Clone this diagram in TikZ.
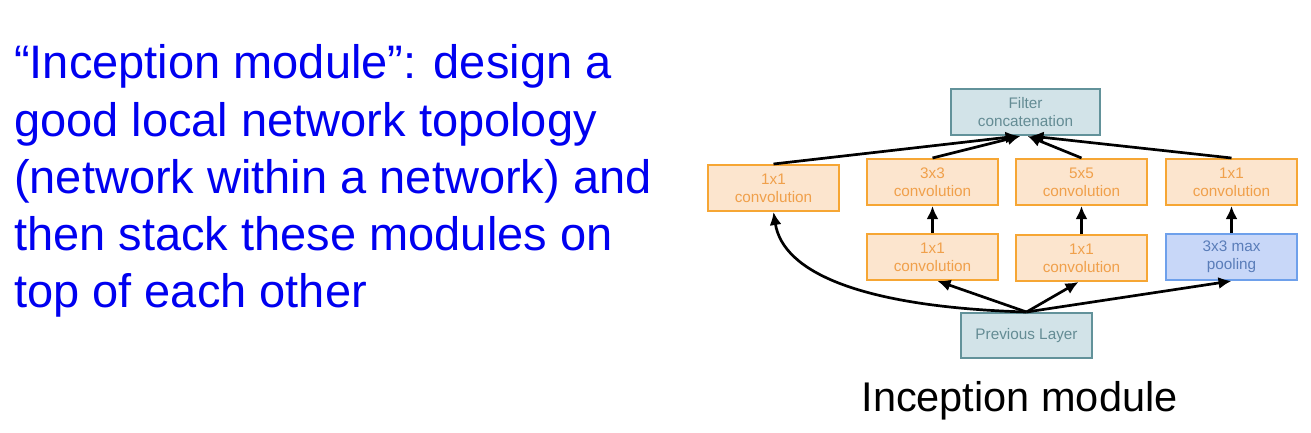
\documentclass[tikz,border=0pt]{standalone}
\usepackage{fontspec}
\setmainfont{Liberation Sans}
\usetikzlibrary{arrows.meta,calc}
\definecolor{txtblue}{RGB}{0,0,240}
\definecolor{orbd}{RGB}{246,166,52}
\definecolor{orfill}{RGB}{252,229,206}
\definecolor{ortxt}{RGB}{240,160,75}
\definecolor{tlbd}{RGB}{98,146,154}
\definecolor{tlfill}{RGB}{210,227,232}
\definecolor{tltxt}{RGB}{100,140,148}
\definecolor{blbd}{RGB}{110,160,235}
\definecolor{blfill}{RGB}{200,215,248}
\definecolor{bltxt}{RGB}{90,125,185}
\tikzset{
  boxbase/.style={draw, line width=2pt, align=center, inner sep=0pt,
    minimum width=131pt, minimum height=46pt,
    font=\fontsize{15.3}{18}\selectfont},
  convbox/.style={boxbase, draw=orbd, fill=orfill, text=ortxt},
  tealbox/.style={boxbase, draw=tlbd, fill=tlfill, text=tltxt},
  poolbox/.style={boxbase, draw=blbd, fill=blfill, text=bltxt},
  bigline/.style={anchor=base west, inner sep=0pt, text=txtblue,
    font=\fontsize{47}{57}\selectfont},
  conn/.style={line width=2.7pt, -{Latex[length=13pt,width=12pt]}}
}
\begin{document}
\begin{tikzpicture}[x=1pt,y=-1pt]
\useasboundingbox (0,0) rectangle (1311,433);
\fill[white] (0,0) rectangle (1311,433);

% left text
\node[bigline] (l1) at (14,79)  {“Inception module”: design a};
\node[bigline] (l2) at (14,136) {good local network topology};
\node[bigline] (l3) at (14,193) {(network within a network) and};
\node[bigline] (l4) at (14,250) {then stack these modules on};
\node[bigline] (l5) at (14,307) {top of each other};

% caption
\node[anchor=base, inner sep=0pt, font=\fontsize{41.5}{50}\selectfont] (cap) at (1019.5,411) {Inception module};

% boxes
\node[tealbox, minimum width=149pt] (concat) at (1025.5,112) {Filter\\concatenation};
\node[convbox] (c1) at (773.5,188) {1x1\\convolution};
\node[convbox] (c3) at (932.5,182) {3x3\\convolution};
\node[convbox] (r3) at (932.5,257) {1x1\\convolution};
\node[convbox] (c5) at (1081.5,182) {5x5\\convolution};
\node[convbox] (r5) at (1081.5,258) {1x1\\convolution};
\node[convbox] (cp) at (1231.5,182) {1x1\\convolution};
\node[poolbox] (pool) at (1231.5,257) {3x3 max\\pooling};
\node[tealbox, minimum height=45pt] (prev) at (1026.5,335.5) {Previous Layer};

% connectors from previous layer
\draw[conn] (prev.north) .. controls (860,307) and (783,272) .. (c1.south);
\draw[conn] (prev.north) -- ($(r3.south)+(5,0)$);
\draw[conn] (prev.north) -- ($(r5.south)+(-3,0)$);
\draw[conn] (prev.north) -- (pool.south);

% vertical connectors
\draw[conn] (r3.north) -- (c3.south);
\draw[conn] (r5.north) -- (c5.south);
\draw[conn] (pool.north) -- (cp.south);

% to concatenation
\draw[conn] (c1.north) -- ($(concat.south)+(-7,0)$);
\draw[conn] (c3.north) -- ($(concat.south)+(-5,0)$);
\draw[conn] (c5.north) -- ($(concat.south)+(2,0)$);
\draw[conn] (cp.north) -- ($(concat.south)+(5,0)$);
\end{tikzpicture}
\end{document}
